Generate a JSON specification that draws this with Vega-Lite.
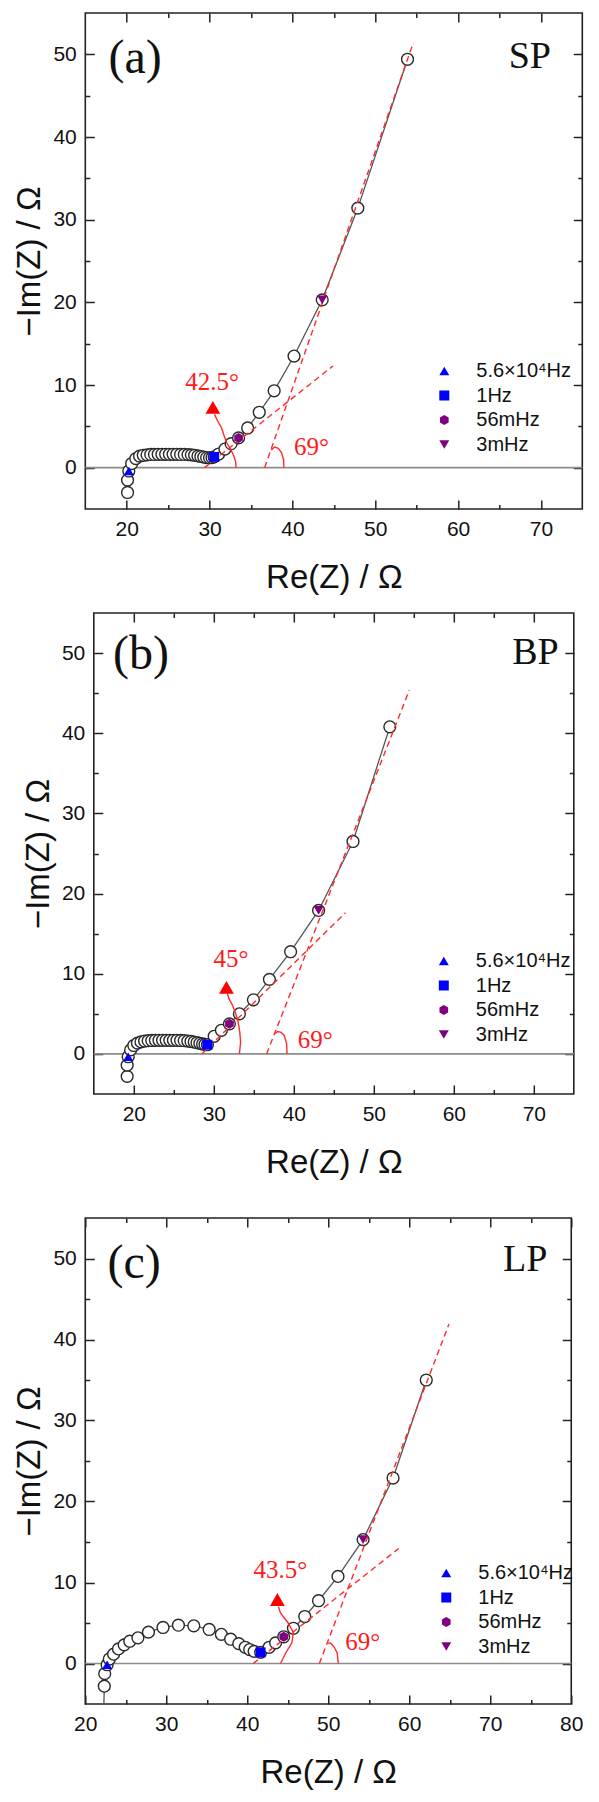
{
  "$schema": "https://vega.github.io/schema/vega-lite/v6.json",
  "background": "white",
  "padding": {"left": 13, "top": 11, "right": 5, "bottom": 5},
  "spacing": 36,
  "center": true,
  "config": {
    "view": {"stroke": "#222222", "strokeWidth": 1.6},
    "axis": {
      "grid": false, "domain": false, "labelFlush": false,
      "labelFont": "Liberation Sans", "labelFontSize": 21, "labelColor": "#111111",
      "titleFont": "Liberation Sans", "titleFontSize": 33, "titleFontWeight": "normal", "titleColor": "#111111",
      "tickColor": "#222222", "tickWidth": 1.5
    },
    "legend": {
      "title": null, "padding": 0, "labelFont": "Liberation Sans", "labelFontSize": 20, "labelColor": "#111111",
      "labelOffset": 22, "rowPadding": 4.5, "symbolSize": 100, "symbolStrokeWidth": 0
    }
  },
  "resolve": {
    "scale": {"color": "independent", "shape": "independent"},
    "legend": {"color": "independent", "shape": "independent"}
  },
  "datasets": {
    "a_pts": [{"x":20.1,"y":-3.0},{"x":20.1,"y":-1.5},{"x":20.25,"y":-0.4},{"x":20.6,"y":0.5},{"x":21.1,"y":1.1},{"x":21.55,"y":1.4},{"x":22.0,"y":1.5},{"x":22.45,"y":1.55},{"x":22.9,"y":1.6},{"x":23.35,"y":1.6},{"x":23.8,"y":1.62},{"x":24.25,"y":1.62},{"x":24.7,"y":1.62},{"x":25.15,"y":1.62},{"x":25.6,"y":1.62},{"x":26.05,"y":1.62},{"x":26.5,"y":1.6},{"x":26.95,"y":1.6},{"x":27.4,"y":1.58},{"x":27.8,"y":1.55},{"x":28.2,"y":1.5},{"x":28.6,"y":1.42},{"x":28.95,"y":1.35},{"x":29.3,"y":1.28},{"x":29.65,"y":1.22},{"x":30.0,"y":1.2},{"x":30.3,"y":1.22},{"x":30.56,"y":1.3},{"x":31.1,"y":1.65},{"x":31.85,"y":2.25},{"x":32.6,"y":2.9},{"x":33.5,"y":3.6},{"x":34.6,"y":4.8},{"x":36.0,"y":6.7},{"x":37.8,"y":9.3},{"x":40.2,"y":13.5},{"x":43.6,"y":20.3},{"x":47.9,"y":31.4},{"x":53.9,"y":49.4}],
    "a_mk": [{"x":20.25,"y":-0.4,"f":"5.6×10⁴Hz"},{"x":30.56,"y":1.3,"f":"1Hz"},{"x":33.5,"y":3.6,"f":"56mHz"},{"x":43.6,"y":20.3,"f":"3mHz"}],
    "a_fit": [{"l":1,"x":36.65,"y":0},{"l":1,"x":54.6,"y":51.4},{"l":2,"x":29.4,"y":0},{"l":2,"x":44.9,"y":12.3}],
    "a_arc": [{"x":37.45,"y":2.15},{"x":37.85,"y":2.5},{"x":38.3,"y":2.35},{"x":38.7,"y":1.8},{"x":38.95,"y":0.9},{"x":38.97,"y":0}],
    "a_arw": [{"x":33.2,"y":0},{"x":33.15,"y":0.7},{"x":32.9,"y":1.5},{"x":32.5,"y":2.3},{"x":32.1,"y":2.95},{"x":31.75,"y":3.9},{"x":31.45,"y":4.8},{"x":30.95,"y":5.7},{"x":30.6,"y":6.45}],
    "b_pts": [{"x":19.17,"y":-2.8},{"x":19.17,"y":-1.4},{"x":19.3,"y":-0.35},{"x":19.6,"y":0.5},{"x":20.0,"y":1.05},{"x":20.45,"y":1.35},{"x":20.9,"y":1.5},{"x":21.35,"y":1.6},{"x":21.8,"y":1.65},{"x":22.25,"y":1.68},{"x":22.7,"y":1.7},{"x":23.15,"y":1.7},{"x":23.6,"y":1.7},{"x":24.05,"y":1.7},{"x":24.5,"y":1.7},{"x":24.95,"y":1.7},{"x":25.4,"y":1.7},{"x":25.85,"y":1.68},{"x":26.3,"y":1.65},{"x":26.75,"y":1.6},{"x":27.15,"y":1.55},{"x":27.55,"y":1.48},{"x":27.9,"y":1.4},{"x":28.25,"y":1.32},{"x":28.6,"y":1.24},{"x":28.9,"y":1.18},{"x":29.2,"y":1.15},{"x":30.05,"y":2.2},{"x":30.95,"y":2.95},{"x":31.95,"y":3.75},{"x":33.2,"y":5.0},{"x":34.95,"y":6.75},{"x":36.95,"y":9.3},{"x":39.6,"y":12.75},{"x":43.1,"y":17.9},{"x":47.4,"y":26.5},{"x":52.0,"y":40.8}],
    "b_mk": [{"x":19.3,"y":-0.35,"f":"5.6×10⁴Hz"},{"x":29.2,"y":1.15,"f":"1Hz"},{"x":31.95,"y":3.75,"f":"56mHz"},{"x":43.1,"y":17.9,"f":"3mHz"}],
    "b_fit": [{"l":1,"x":36.6,"y":0},{"l":1,"x":54.45,"y":45.4},{"l":2,"x":28.5,"y":0},{"l":2,"x":46.45,"y":17.6}],
    "b_arc": [{"x":37.58,"y":2.5},{"x":38.0,"y":2.8},{"x":38.4,"y":2.7},{"x":38.8,"y":2.3},{"x":39.1,"y":1.3},{"x":39.15,"y":0}],
    "b_arw": [{"x":33.2,"y":0},{"x":33.35,"y":1.45},{"x":33.25,"y":2.7},{"x":33.05,"y":3.95},{"x":32.75,"y":5.0},{"x":32.35,"y":6.05},{"x":31.9,"y":6.9},{"x":31.7,"y":7.5}],
    "c_pts": [{"x":22.35,"y":-2.8},{"x":22.4,"y":-1.25},{"x":22.7,"y":-0.15},{"x":22.97,"y":0.55},{"x":23.5,"y":1.15},{"x":24.1,"y":1.8},{"x":24.8,"y":2.3},{"x":25.5,"y":2.75},{"x":26.5,"y":3.17},{"x":27.8,"y":3.87},{"x":29.6,"y":4.45},{"x":31.5,"y":4.73},{"x":33.4,"y":4.65},{"x":35.3,"y":4.2},{"x":36.8,"y":3.6},{"x":37.95,"y":3.0},{"x":38.95,"y":2.45},{"x":39.75,"y":2.0},{"x":40.3,"y":1.72},{"x":40.85,"y":1.5},{"x":41.65,"y":1.38},{"x":42.7,"y":2.0},{"x":43.5,"y":2.55},{"x":44.5,"y":3.3},{"x":45.7,"y":4.35},{"x":47.1,"y":5.8},{"x":48.8,"y":7.75},{"x":51.2,"y":10.75},{"x":54.3,"y":15.3},{"x":58.0,"y":22.9},{"x":62.1,"y":35.0}],
    "c_tail": [{"x":22.3,"y":-5},{"x":22.35,"y":-2.8}],
    "c_mk": [{"x":22.7,"y":-0.15,"f":"5.6×10⁴Hz"},{"x":41.65,"y":1.38,"f":"1Hz"},{"x":44.5,"y":3.3,"f":"56mHz"},{"x":54.3,"y":15.3,"f":"3mHz"}],
    "c_fit": [{"l":1,"x":48.9,"y":0},{"l":1,"x":64.9,"y":41.9},{"l":2,"x":40.73,"y":0},{"l":2,"x":58.7,"y":14.2}],
    "c_arc": [{"x":49.87,"y":2.55},{"x":50.3,"y":2.5},{"x":50.75,"y":2.0},{"x":51.1,"y":1.3},{"x":51.24,"y":0}],
    "c_arw": [{"x":44.1,"y":0},{"x":44.75,"y":1.3},{"x":45.5,"y":2.55},{"x":45.7,"y":3.8},{"x":45.05,"y":5.0},{"x":44.1,"y":6.25},{"x":43.85,"y":7.0}]
  },
  "vconcat": [
    {
      "spacing": 16,
      "center": true,
      "resolve": {
        "scale": {"color": "independent", "shape": "independent"},
        "legend": {"color": "independent", "shape": "independent"}
      },
      "vconcat": [
        {
          "width": 497, "height": 496,
          "resolve": {"axis": {"x": "independent", "y": "independent"}},
          "layer": [
            {"data": {"values": [{}]}, "mark": {"type": "rule", "color": "#8c8c8c", "strokeWidth": 1.6},
             "encoding": {"y": {"datum": 0, "type": "quantitative", "scale": {"domain": [-5, 55], "nice": false, "zero": false}, "axis": null}}},
            {"data": {"name": "a_pts"}, "mark": {"type": "line", "color": "#555555", "strokeWidth": 1.3},
             "encoding": {
               "x": {"field": "x", "type": "quantitative", "scale": {"domain": [15, 75], "nice": false, "zero": false},
                     "axis": {"orient": "bottom", "values": [20, 30, 40, 50, 60, 70], "ticks": false, "labelPadding": 9, "title": "Re(Z) / Ω", "titlePadding": 22}},
               "y": {"field": "y", "type": "quantitative", "scale": {"domain": [-5, 55], "nice": false, "zero": false},
                     "axis": {"orient": "left", "values": [0, 10, 20, 30, 40, 50], "ticks": false, "labelPadding": 9, "title": "−Im(Z) / Ω", "titlePadding": 6}}}},
            {"data": {"name": "a_pts"}, "mark": {"type": "point", "shape": "circle", "filled": true, "fill": "white", "stroke": "#2a2a2a", "strokeWidth": 1.4, "size": 140, "opacity": 1},
             "encoding": {
               "x": {"field": "x", "type": "quantitative", "axis": {"orient": "bottom", "values": [20, 30, 40, 50, 60, 70], "labels": false, "title": null, "tickSize": 9, "offset": -9}},
               "y": {"field": "y", "type": "quantitative", "axis": {"orient": "left", "values": [0, 10, 20, 30, 40, 50], "labels": false, "title": null, "tickSize": 9, "offset": -9}}}},
            {"data": {"name": "a_fit"}, "mark": {"type": "line", "color": "#ff2a2a", "strokeWidth": 1.4, "strokeDash": [6, 4]},
             "encoding": {
               "x": {"field": "x", "type": "quantitative", "axis": {"orient": "bottom", "values": [25, 35, 45, 55, 65], "labels": false, "title": null, "tickSize": 4.5, "offset": -4.5}},
               "y": {"field": "y", "type": "quantitative", "axis": {"orient": "left", "values": [5, 15, 25, 35, 45], "labels": false, "title": null, "tickSize": 4.5, "offset": -4.5}},
               "detail": {"field": "l", "type": "nominal"}}},
            {"data": {"name": "a_mk"}, "mark": {"type": "point", "filled": true, "size": 100, "opacity": 1},
             "encoding": {
               "x": {"field": "x", "type": "quantitative", "axis": {"orient": "top", "values": [20, 30, 40, 50, 60, 70], "labels": false, "title": null, "tickSize": 9, "offset": -9}},
               "y": {"field": "y", "type": "quantitative", "axis": {"orient": "right", "values": [0, 10, 20, 30, 40, 50], "labels": false, "title": null, "tickSize": 9, "offset": -9}},
               "shape": {"field": "f", "type": "nominal", "scale": {"domain": ["5.6×10⁴Hz", "1Hz", "56mHz", "3mHz"], "range": ["triangle-up", "square", "M0,-1L0.866,-0.5L0.866,0.5L0,1L-0.866,0.5L-0.866,-0.5Z", "triangle-down"]},
                         "legend": {"orient": "none", "legendX": 349, "legendY": 348}},
               "color": {"field": "f", "type": "nominal", "scale": {"domain": ["5.6×10⁴Hz", "1Hz", "56mHz", "3mHz"], "range": ["#0000ff", "#0000ff", "#800080", "#800080"]},
                         "legend": {"orient": "none", "legendX": 349, "legendY": 348}}}},
            {"data": {"name": "a_arc"}, "mark": {"type": "line", "color": "#ff2a2a", "strokeWidth": 1.4},
             "encoding": {
               "x": {"field": "x", "type": "quantitative", "axis": {"orient": "top", "values": [25, 35, 45, 55, 65], "labels": false, "title": null, "tickSize": 4.5, "offset": -4.5}},
               "y": {"field": "y", "type": "quantitative", "axis": {"orient": "right", "values": [5, 15, 25, 35, 45], "labels": false, "title": null, "tickSize": 4.5, "offset": -4.5}}}},
            {"data": {"name": "a_arw"}, "mark": {"type": "line", "color": "#ff2a2a", "strokeWidth": 1.4},
             "encoding": {
               "x": {"field": "x", "type": "quantitative", "axis": null},
               "y": {"field": "y", "type": "quantitative", "axis": null},
               "order": {"field": "y", "type": "quantitative"}}},
            {"data": {"values": [{}]}, "mark": {"type": "point", "shape": "triangle-up", "filled": true, "color": "#ff0000", "size": 220, "opacity": 1},
             "encoding": {"x": {"datum": 30.4, "type": "quantitative", "axis": null}, "y": {"datum": 7.3, "type": "quantitative", "axis": null}}},
            {"data": {"values": [{}]}, "mark": {"type": "text", "text": "(a)", "font": "Liberation Serif", "fontSize": 48, "align": "left", "baseline": "alphabetic", "color": "#111111"},
             "encoding": {"x": {"datum": 17.8, "type": "quantitative", "axis": null}, "y": {"datum": 47.8, "type": "quantitative", "axis": null}}},
            {"data": {"values": [{}]}, "mark": {"type": "text", "text": "SP", "font": "Liberation Serif", "fontSize": 38, "align": "center", "baseline": "alphabetic", "color": "#111111"},
             "encoding": {"x": {"datum": 68.66, "type": "quantitative", "axis": null}, "y": {"datum": 48.3, "type": "quantitative", "axis": null}}},
            {"data": {"values": [{}]}, "mark": {"type": "text", "text": "42.5°", "font": "Liberation Serif", "fontSize": 25, "align": "center", "baseline": "alphabetic", "color": "#ff1a1a"},
             "encoding": {"x": {"datum": 30.3, "type": "quantitative", "axis": null}, "y": {"datum": 9.4, "type": "quantitative", "axis": null}}},
            {"data": {"values": [{}]}, "mark": {"type": "text", "text": "69°", "font": "Liberation Serif", "fontSize": 25, "align": "left", "baseline": "alphabetic", "color": "#ff1a1a"},
             "encoding": {"x": {"datum": 40.2, "type": "quantitative", "axis": null}, "y": {"datum": 1.5, "type": "quantitative", "axis": null}}}
          ]
        },
        {
          "width": 480, "height": 481,
          "resolve": {"axis": {"x": "independent", "y": "independent"}},
          "layer": [
            {"data": {"values": [{}]}, "mark": {"type": "rule", "color": "#8c8c8c", "strokeWidth": 1.6},
             "encoding": {"y": {"datum": 0, "type": "quantitative", "scale": {"domain": [-5, 55], "nice": false, "zero": false}, "axis": null}}},
            {"data": {"name": "b_pts"}, "mark": {"type": "line", "color": "#555555", "strokeWidth": 1.3},
             "encoding": {
               "x": {"field": "x", "type": "quantitative", "scale": {"domain": [15, 75], "nice": false, "zero": false},
                     "axis": {"orient": "bottom", "values": [20, 30, 40, 50, 60, 70], "ticks": false, "labelPadding": 9, "title": "Re(Z) / Ω", "titlePadding": 22}},
               "y": {"field": "y", "type": "quantitative", "scale": {"domain": [-5, 55], "nice": false, "zero": false},
                     "axis": {"orient": "left", "values": [0, 10, 20, 30, 40, 50], "ticks": false, "labelPadding": 9, "title": "−Im(Z) / Ω", "titlePadding": 6}}}},
            {"data": {"name": "b_pts"}, "mark": {"type": "point", "shape": "circle", "filled": true, "fill": "white", "stroke": "#2a2a2a", "strokeWidth": 1.4, "size": 140, "opacity": 1},
             "encoding": {
               "x": {"field": "x", "type": "quantitative", "axis": {"orient": "bottom", "values": [20, 30, 40, 50, 60, 70], "labels": false, "title": null, "tickSize": 9, "offset": -9}},
               "y": {"field": "y", "type": "quantitative", "axis": {"orient": "left", "values": [0, 10, 20, 30, 40, 50], "labels": false, "title": null, "tickSize": 9, "offset": -9}}}},
            {"data": {"name": "b_fit"}, "mark": {"type": "line", "color": "#ff2a2a", "strokeWidth": 1.4, "strokeDash": [6, 4]},
             "encoding": {
               "x": {"field": "x", "type": "quantitative", "axis": {"orient": "bottom", "values": [25, 35, 45, 55, 65], "labels": false, "title": null, "tickSize": 4.5, "offset": -4.5}},
               "y": {"field": "y", "type": "quantitative", "axis": {"orient": "left", "values": [5, 15, 25, 35, 45], "labels": false, "title": null, "tickSize": 4.5, "offset": -4.5}},
               "detail": {"field": "l", "type": "nominal"}}},
            {"data": {"name": "b_mk"}, "mark": {"type": "point", "filled": true, "size": 100, "opacity": 1},
             "encoding": {
               "x": {"field": "x", "type": "quantitative", "axis": {"orient": "top", "values": [20, 30, 40, 50, 60, 70], "labels": false, "title": null, "tickSize": 9, "offset": -9}},
               "y": {"field": "y", "type": "quantitative", "axis": {"orient": "right", "values": [0, 10, 20, 30, 40, 50], "labels": false, "title": null, "tickSize": 9, "offset": -9}},
               "shape": {"field": "f", "type": "nominal", "scale": {"domain": ["5.6×10⁴Hz", "1Hz", "56mHz", "3mHz"], "range": ["triangle-up", "square", "M0,-1L0.866,-0.5L0.866,0.5L0,1L-0.866,0.5L-0.866,-0.5Z", "triangle-down"]},
                         "legend": {"orient": "none", "legendX": 340, "legendY": 338}},
               "color": {"field": "f", "type": "nominal", "scale": {"domain": ["5.6×10⁴Hz", "1Hz", "56mHz", "3mHz"], "range": ["#0000ff", "#0000ff", "#800080", "#800080"]},
                         "legend": {"orient": "none", "legendX": 340, "legendY": 338}}}},
            {"data": {"name": "b_arc"}, "mark": {"type": "line", "color": "#ff2a2a", "strokeWidth": 1.4},
             "encoding": {
               "x": {"field": "x", "type": "quantitative", "axis": {"orient": "top", "values": [25, 35, 45, 55, 65], "labels": false, "title": null, "tickSize": 4.5, "offset": -4.5}},
               "y": {"field": "y", "type": "quantitative", "axis": {"orient": "right", "values": [5, 15, 25, 35, 45], "labels": false, "title": null, "tickSize": 4.5, "offset": -4.5}}}},
            {"data": {"name": "b_arw"}, "mark": {"type": "line", "color": "#ff2a2a", "strokeWidth": 1.4},
             "encoding": {
               "x": {"field": "x", "type": "quantitative", "axis": null},
               "y": {"field": "y", "type": "quantitative", "axis": null},
               "order": {"field": "y", "type": "quantitative"}}},
            {"data": {"values": [{}]}, "mark": {"type": "point", "shape": "triangle-up", "filled": true, "color": "#ff0000", "size": 220, "opacity": 1},
             "encoding": {"x": {"datum": 31.58, "type": "quantitative", "axis": null}, "y": {"datum": 8.3, "type": "quantitative", "axis": null}}},
            {"data": {"values": [{}]}, "mark": {"type": "text", "text": "(b)", "font": "Liberation Serif", "fontSize": 48, "align": "left", "baseline": "alphabetic", "color": "#111111"},
             "encoding": {"x": {"datum": 17.4, "type": "quantitative", "axis": null}, "y": {"datum": 48.0, "type": "quantitative", "axis": null}}},
            {"data": {"values": [{}]}, "mark": {"type": "text", "text": "BP", "font": "Liberation Serif", "fontSize": 38, "align": "center", "baseline": "alphabetic", "color": "#111111"},
             "encoding": {"x": {"datum": 70.2, "type": "quantitative", "axis": null}, "y": {"datum": 48.7, "type": "quantitative", "axis": null}}},
            {"data": {"values": [{}]}, "mark": {"type": "text", "text": "45°", "font": "Liberation Serif", "fontSize": 25, "align": "center", "baseline": "alphabetic", "color": "#ff1a1a"},
             "encoding": {"x": {"datum": 32.15, "type": "quantitative", "axis": null}, "y": {"datum": 10.8, "type": "quantitative", "axis": null}}},
            {"data": {"values": [{}]}, "mark": {"type": "text", "text": "69°", "font": "Liberation Serif", "fontSize": 25, "align": "left", "baseline": "alphabetic", "color": "#ff1a1a"},
             "encoding": {"x": {"datum": 40.5, "type": "quantitative", "axis": null}, "y": {"datum": 0.8, "type": "quantitative", "axis": null}}}
          ]
        }
      ]
    },
    {
      "width": 486, "height": 486,
      "resolve": {"axis": {"x": "independent", "y": "independent"}},
      "layer": [
        {"data": {"values": [{}]}, "mark": {"type": "rule", "color": "#8c8c8c", "strokeWidth": 1.6},
         "encoding": {"y": {"datum": 0, "type": "quantitative", "scale": {"domain": [-5, 55], "nice": false, "zero": false}, "axis": null}}},
        {"data": {"name": "c_tail"}, "mark": {"type": "line", "color": "#555555", "strokeWidth": 1.3},
         "encoding": {
           "x": {"field": "x", "type": "quantitative", "scale": {"domain": [20, 80], "nice": false, "zero": false}, "axis": null},
           "y": {"field": "y", "type": "quantitative", "scale": {"domain": [-5, 55], "nice": false, "zero": false}, "axis": null},
           "order": {"field": "y", "type": "quantitative"}}},
        {"data": {"name": "c_pts"}, "mark": {"type": "line", "color": "#555555", "strokeWidth": 1.3},
         "encoding": {
           "x": {"field": "x", "type": "quantitative", "scale": {"domain": [20, 80], "nice": false, "zero": false},
                 "axis": {"orient": "bottom", "values": [20, 30, 40, 50, 60, 70, 80], "ticks": false, "labelPadding": 9, "title": "Re(Z) / Ω", "titlePadding": 22}},
           "y": {"field": "y", "type": "quantitative", "scale": {"domain": [-5, 55], "nice": false, "zero": false},
                 "axis": {"orient": "left", "values": [0, 10, 20, 30, 40, 50], "ticks": false, "labelPadding": 9, "title": "−Im(Z) / Ω", "titlePadding": 6}}}},
        {"data": {"name": "c_pts"}, "mark": {"type": "point", "shape": "circle", "filled": true, "fill": "white", "stroke": "#2a2a2a", "strokeWidth": 1.4, "size": 140, "opacity": 1},
         "encoding": {
           "x": {"field": "x", "type": "quantitative", "axis": {"orient": "bottom", "values": [20, 30, 40, 50, 60, 70, 80], "labels": false, "title": null, "tickSize": 9, "offset": -9}},
           "y": {"field": "y", "type": "quantitative", "axis": {"orient": "left", "values": [0, 10, 20, 30, 40, 50], "labels": false, "title": null, "tickSize": 9, "offset": -9}}}},
        {"data": {"name": "c_fit"}, "mark": {"type": "line", "color": "#ff2a2a", "strokeWidth": 1.4, "strokeDash": [6, 4]},
         "encoding": {
           "x": {"field": "x", "type": "quantitative", "axis": {"orient": "bottom", "values": [25, 35, 45, 55, 65, 75], "labels": false, "title": null, "tickSize": 4.5, "offset": -4.5}},
           "y": {"field": "y", "type": "quantitative", "axis": {"orient": "left", "values": [5, 15, 25, 35, 45], "labels": false, "title": null, "tickSize": 4.5, "offset": -4.5}},
           "detail": {"field": "l", "type": "nominal"}}},
        {"data": {"name": "c_mk"}, "mark": {"type": "point", "filled": true, "size": 100, "opacity": 1},
         "encoding": {
           "x": {"field": "x", "type": "quantitative", "axis": {"orient": "top", "values": [20, 30, 40, 50, 60, 70, 80], "labels": false, "title": null, "tickSize": 9, "offset": -9}},
           "y": {"field": "y", "type": "quantitative", "axis": {"orient": "right", "values": [0, 10, 20, 30, 40, 50], "labels": false, "title": null, "tickSize": 9, "offset": -9}},
           "shape": {"field": "f", "type": "nominal", "scale": {"domain": ["5.6×10⁴Hz", "1Hz", "56mHz", "3mHz"], "range": ["triangle-up", "square", "M0,-1L0.866,-0.5L0.866,0.5L0,1L-0.866,0.5L-0.866,-0.5Z", "triangle-down"]},
                     "legend": {"orient": "none", "legendX": 351, "legendY": 345}},
           "color": {"field": "f", "type": "nominal", "scale": {"domain": ["5.6×10⁴Hz", "1Hz", "56mHz", "3mHz"], "range": ["#0000ff", "#0000ff", "#800080", "#800080"]},
                     "legend": {"orient": "none", "legendX": 351, "legendY": 345}}}},
        {"data": {"name": "c_arc"}, "mark": {"type": "line", "color": "#ff2a2a", "strokeWidth": 1.4},
         "encoding": {
           "x": {"field": "x", "type": "quantitative", "axis": {"orient": "top", "values": [25, 35, 45, 55, 65, 75], "labels": false, "title": null, "tickSize": 4.5, "offset": -4.5}},
           "y": {"field": "y", "type": "quantitative", "axis": {"orient": "right", "values": [5, 15, 25, 35, 45], "labels": false, "title": null, "tickSize": 4.5, "offset": -4.5}}}},
        {"data": {"name": "c_arw"}, "mark": {"type": "line", "color": "#ff2a2a", "strokeWidth": 1.4},
         "encoding": {
           "x": {"field": "x", "type": "quantitative", "axis": null},
           "y": {"field": "y", "type": "quantitative", "axis": null},
           "order": {"field": "y", "type": "quantitative"}}},
        {"data": {"values": [{}]}, "mark": {"type": "point", "shape": "triangle-up", "filled": true, "color": "#ff0000", "size": 220, "opacity": 1},
         "encoding": {"x": {"datum": 43.72, "type": "quantitative", "axis": null}, "y": {"datum": 7.9, "type": "quantitative", "axis": null}}},
        {"data": {"values": [{}]}, "mark": {"type": "text", "text": "(c)", "font": "Liberation Serif", "fontSize": 48, "align": "left", "baseline": "alphabetic", "color": "#111111"},
         "encoding": {"x": {"datum": 22.75, "type": "quantitative", "axis": null}, "y": {"datum": 47.6, "type": "quantitative", "axis": null}}},
        {"data": {"values": [{}]}, "mark": {"type": "text", "text": "LP", "font": "Liberation Serif", "fontSize": 38, "align": "center", "baseline": "alphabetic", "color": "#111111"},
         "encoding": {"x": {"datum": 74.3, "type": "quantitative", "axis": null}, "y": {"datum": 48.4, "type": "quantitative", "axis": null}}},
        {"data": {"values": [{}]}, "mark": {"type": "text", "text": "43.5°", "font": "Liberation Serif", "fontSize": 25, "align": "center", "baseline": "alphabetic", "color": "#ff1a1a"},
         "encoding": {"x": {"datum": 44.1, "type": "quantitative", "axis": null}, "y": {"datum": 10.6, "type": "quantitative", "axis": null}}},
        {"data": {"values": [{}]}, "mark": {"type": "text", "text": "69°", "font": "Liberation Serif", "fontSize": 25, "align": "left", "baseline": "alphabetic", "color": "#ff1a1a"},
         "encoding": {"x": {"datum": 52.1, "type": "quantitative", "axis": null}, "y": {"datum": 1.7, "type": "quantitative", "axis": null}}}
      ]
    }
  ]
}
